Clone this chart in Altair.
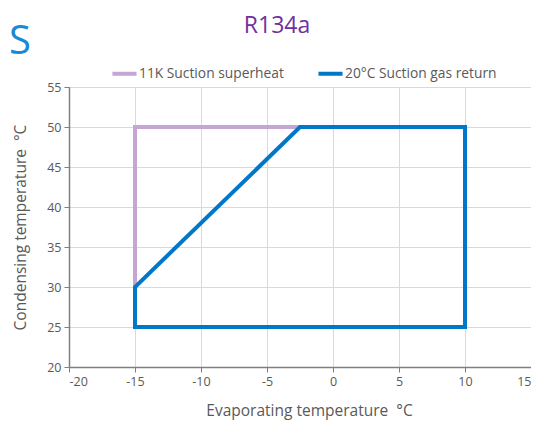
import altair as alt
import pandas as pd

series_names = ["11K Suction superheat", "20°C Suction gas return"]
superheat_x = [-15, -15, -2.5]
superheat_y = [30, 50, 50]
gasreturn_x = [-15, -15, -2.5, 10, 10, -15]
gasreturn_y = [25, 30, 50, 50, 25, 25]
x_ticks = [-20, -15, -10, -5, 0, 5, 10, 15]
y_ticks = [20, 25, 30, 35, 40, 45, 50, 55]
colors = ["#c4a5d4", "#0077c8"]

rows = []
for i, (x, y) in enumerate(zip(superheat_x, superheat_y)):
    rows.append({"series": series_names[0], "ord": i, "x": x, "y": y})
for i, (x, y) in enumerate(zip(gasreturn_x, gasreturn_y)):
    rows.append({"series": series_names[1], "ord": i, "x": x, "y": y})
df = pd.DataFrame(rows)

font = "Open Sans"
label_expr = "datum.value < 0 ? '-' + abs(datum.value) : '' + datum.value"

lines = alt.Chart(df).mark_line(strokeWidth=4, strokeJoin="miter", strokeCap="square").encode(
    x=alt.X("x:Q", scale=alt.Scale(domain=[-20, 15], nice=False),
            axis=alt.Axis(values=x_ticks, labelExpr=label_expr, titleX=240,
                          title="Evaporating temperature\u00a0\u00a0°C")),
    y=alt.Y("y:Q", scale=alt.Scale(domain=[20, 55], nice=False),
            axis=alt.Axis(values=y_ticks, labelExpr=label_expr,
                          title="Condensing temperature\u00a0\u00a0°C")),
    color=alt.Color("series:N", scale=alt.Scale(domain=series_names, range=colors),
                    legend=alt.Legend(title=None, orient="none", legendX=41, legendY=-28,
                                      direction="horizontal", symbolType="stroke",
                                      symbolStrokeWidth=4, symbolSize=580,
                                      labelFont=font, labelFontSize=13.8, labelColor="#595959",
                                      labelOffset=0, columnPadding=26)),
    order="ord:Q",
    detail="series:N",
)

s_text = alt.Chart(pd.DataFrame({"t": ["S"]})).mark_text(
    align="left", baseline="alphabetic", fontSize=40, font=font, color="#1a8ad4"
).encode(x=alt.value(-60), y=alt.value(-33), text="t:N")

chart = alt.layer(lines, s_text).properties(
    width=462, height=280,
    padding={"left": 61, "top": 79, "right": 0, "bottom": 53},
    autosize=alt.AutoSizeParams(type="none"),
    title=alt.TitleParams("R134a", fontSize=23, font=font, fontWeight="normal",
                          color="#7030a0", anchor="middle", frame="group",
                          offset=14, dy=30, dx=-23),
).configure_view(stroke=None).configure_axis(
    labelFont=font, labelFontSize=12.5, labelColor="#595959",
    titleFont=font, titleFontSize=15.5, titleColor="#595959", titleFontWeight="normal",
    domainColor="#7f7f7f", domainWidth=1.5, tickColor="#7f7f7f", tickSize=5,
    gridColor="#d9d9d9", gridWidth=1,
).configure_axisX(titlePadding=16, labelPadding=3).configure_axisY(titlePadding=18, labelPadding=3)

chart.save("out.html", embed_options={"renderer": "svg", "actions": False})
